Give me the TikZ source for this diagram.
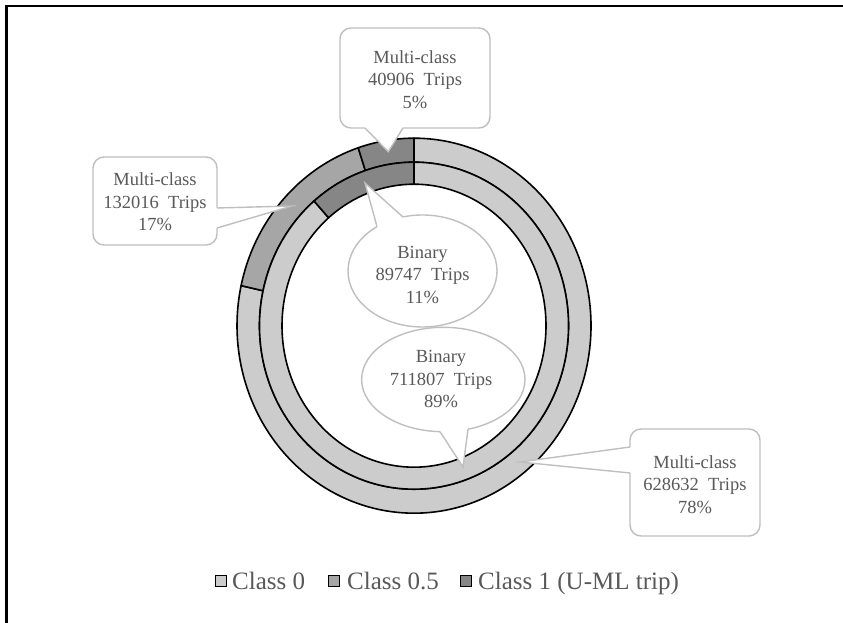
\documentclass[tikz,border=0pt]{standalone}
\usepackage{fontspec}
\setmainfont{Liberation Serif}
\usetikzlibrary{shapes.geometric}
\definecolor{czero}{RGB}{204,204,204}
\definecolor{chalf}{RGB}{166,166,166}
\definecolor{cone}{RGB}{134,134,134}
\definecolor{txtgray}{RGB}{89,89,89}
\definecolor{cbord}{RGB}{191,191,191}
\newcommand\donutseg[7]{\filldraw[seg,fill=#1] (#2:#4 and #5) arc[start angle=#2,end angle=#3,x radius=#4,y radius=#5] -- (#3:#6 and #7) arc[start angle=#3,end angle=#2,x radius=#6,y radius=#7] -- cycle;}
\begin{document}
\begin{tikzpicture}[x=1pt,y=1pt,
  seg/.style={draw=black,line width=1.6pt,line join=round},
  lab/.style={text=txtgray,align=center,font=\fontsize{18.5}{22.5}\selectfont,inner sep=0pt},
  callbox/.style={draw=cbord,fill=white,line width=1.4pt,rounded corners=11pt,inner sep=0pt},
  callell/.style={ellipse,draw=cbord,fill=white,line width=1.4pt,inner sep=0pt},
  ptrfill/.style={fill=white},
  ptrline/.style={draw=cbord,line width=1.4pt,line join=miter},
  leg/.style={text=txtgray,font=\fontsize{25}{28}\selectfont,anchor=base west,inner sep=0pt},
  legsq/.style={draw=black,line width=1.7pt,minimum size=11pt,inner sep=0pt}
]
\useasboundingbox (0,0) rectangle (843,623);
\fill[white] (0,0) rectangle (843,623);
% frame lines
\draw[line width=2.3pt] (5.5,617.2) -- (843,617.2);
\draw[line width=2.3pt] (6.5,0) -- (6.5,618.3);

% doughnut
\coordinate (C) at (414,297.3);
\begin{scope}[shift={(C)}]
  % outer ring: multi-class
  \donutseg{czero}{90}{-192.34}{177}{187.5}{154.5}{163.5}
  \donutseg{chalf}{-192.34}{-251.63}{177}{187.5}{154.5}{163.5}
  \donutseg{cone}{-251.63}{-270}{177}{187.5}{154.5}{163.5}
  % inner ring: binary
  \donutseg{czero}{90}{-229.69}{154.5}{163.5}{132}{141.5}
  \donutseg{cone}{-229.69}{-270}{154.5}{163.5}{132}{141.5}
\end{scope}

% callout A (40906)
\node[callbox,minimum width=150pt,minimum height=100pt] (bA) at (415,545) {};
\coordinate (pA) at (388.3,471.3);
\fill[ptrfill] (365,496.5) -- (365,495) -- (pA) -- (403,495) -- (403,496.5) -- cycle;
\draw[ptrline] (365,495) -- (pA) -- (403,495);
\node[lab] (tA) at (415,543.5) {Multi-class\\40906\ \ Trips\\5\%};

% callout B (132016)
\node[callbox,minimum width=124pt,minimum height=88pt] (bB) at (155,422) {};
\coordinate (pB) at (292,417);
\fill[ptrfill] (215.5,415) -- (217,415) -- (pB) -- (217,395) -- (215.5,395) -- cycle;
\draw[ptrline] (217,415) -- (pB) -- (217,395);
\node[lab] (tB) at (155,421) {Multi-class\\132016\ \ Trips\\17\%};

% callout C (628632)
\node[callbox,minimum width=130pt,minimum height=107pt] (bC) at (695,140.5) {};
\coordinate (pC) at (520,161);
\fill[ptrfill] (631.5,176) -- (630,176) -- (pC) -- (630,150) -- (631.5,150) -- cycle;
\draw[ptrline] (630,176) -- (pC) -- (630,150);
\node[lab] (tC) at (695,138.5) {Multi-class\\628632\ \ Trips\\78\%};

% ellipse E (711807)
\node[callell,minimum width=163.4pt,minimum height=104.4pt] (bE) at (443.3,243.5) {};
\coordinate (pE) at (463,156);
\fill[ptrfill] (440,194.5) -- (440,191.3) -- (pE) -- (468,193.7) -- (467.5,196.5) -- cycle;
\draw[ptrline] (440,191.3) -- (pE) -- (468,193.7);
\node[lab] (tE) at (441,243.5) {Binary\\711807\ \ Trips\\89\%};

% ellipse D (89747)
\node[callell,minimum width=149pt,minimum height=112pt] (bD) at (422.5,352) {};
\coordinate (pD) at (365,440);
\fill[ptrfill] (379,393.5) -- (377,396.4) -- (pD) -- (403,406) -- (404,403) -- cycle;
\draw[ptrline] (377,396.4) -- (pD) -- (403,406);
\node[lab] (tD) at (422.5,348.3) {Binary\\89747\ \ Trips\\11\%};

% legend
\node[legsq,fill=czero] (s0) at (221,42) {};
\node[leg] (l0) at (232,33.5) {Class 0};
\node[legsq,fill=chalf] (s1) at (334,42) {};
\node[leg] (l1) at (347,33.5) {Class 0.5};
\node[legsq,fill=cone] (s2) at (466,42) {};
\node[leg] (l2) at (478,33.5) {Class 1 (U-ML trip)};
\end{tikzpicture}
\end{document}
